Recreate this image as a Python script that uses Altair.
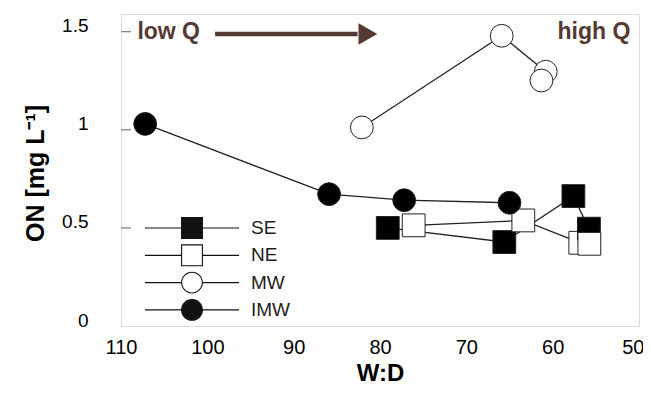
import altair as alt
import pandas as pd

# ---- data ----
series_order = ["SE", "NE", "MW", "IMW"]

imw_wd = [107.2, 85.9, 77.2, 65.0]
imw_on = [1.03, 0.672, 0.641, 0.628]

mw_wd = [82.1, 65.9, 60.8, 61.3]
mw_on = [1.012, 1.479, 1.296, 1.251]

se_wd = [79.1, 65.6, 57.6, 55.8]
se_on = [0.50, 0.428, 0.662, 0.496]

ne_wd = [76.1, 63.4, 56.8, 55.75]
ne_on = [0.513, 0.538, 0.424, 0.419]

x_ticks = [110, 100, 90, 80, 70, 60, 50]
y_ticks = [0, 0.5, 1, 1.5]
y_inner_ticks = [0.5, 1, 1.5]

ann_text = ["low Q", "high Q"]
ann_wd = [108.1, 51.0]
ann_on = [1.496, 1.496]
arrow_from = 99.1
arrow_to = 82.6
arrow_head = 81.4
arrow_on = 1.488

# ---- build tables ----
rows = []
for name, xs, ys in [("IMW", imw_wd, imw_on), ("MW", mw_wd, mw_on),
                     ("SE", se_wd, se_on), ("NE", ne_wd, ne_on)]:
    for i, (xv, yv) in enumerate(zip(xs, ys)):
        rows.append({"series": name, "wd": xv, "on": yv, "idx": i})
df = pd.DataFrame(rows)

ann_df = pd.DataFrame({"label": ann_text, "wd": ann_wd, "on": ann_on,
                       "align": ["left", "right"]})
arrow_df = pd.DataFrame({"wd": [arrow_from], "wd2": [arrow_to], "on": [arrow_on]})
head_df = pd.DataFrame({"wd": [arrow_head], "on": [arrow_on]})
tick_df = pd.DataFrame({"on": y_inner_ticks})

FONT = "Liberation Sans"
BROWN = "#543a32"
INK = "#1e1e1e"

x_enc = alt.X("wd:Q",
              scale=alt.Scale(domain=[110, 50], nice=False, zero=False),
              axis=alt.Axis(values=x_ticks, title="W:D", format="d",
                            grid=False, ticks=False, domain=False,
                            labelFlush=False,
                            labelAlign={"condition": {"test": "datum.value == 50",
                                                      "value": "right"},
                                        "value": "center"},
                            labelOffset={"condition": {"test": "datum.value == 50",
                                                       "value": 5},
                                         "value": 0},
                            labelFontSize=20, labelPadding=11,
                            titleFontSize=24, titleFontWeight="bold",
                            titleY=47, titleBaseline="middle"))
y_enc = alt.Y("on:Q",
              scale=alt.Scale(domain=[0, 1.59], nice=False, zero=False),
              axis=alt.Axis(values=y_ticks, title="ON [mg L⁻¹]", format="~r",
                            grid=False, ticks=False, domain=False,
                            labelFlush=False,
                            labelFontSize=19, labelPadding=33, labelOffset=-6,
                            titleFontSize=25, titleFontWeight="bold",
                            titleAngle=270, titleX=-86, titleY=159,
                            titleAlign="center", titleBaseline="middle"))

# legend glyphs: fill-only paths (line + marker, open markers drawn as rings)
sq_filled = "M-4.3,-0.055H4.3V0.055H-4.3Z M-1,-1H1V1H-1Z"
sq_open = ("M-4.3,-0.055H-0.95V0.055H-4.3Z M0.95,-0.055H4.3V0.055H0.95Z "
           "M-1,-1H1V1H-1Z M-0.9,-0.9V0.9H0.9V-0.9Z")
ci_filled = "M-4.3,-0.055H4.3V0.055H-4.3Z M-1,0A1,1,0,1,1,1,0A1,1,0,1,1,-1,0Z"
ci_open = ("M-4.3,-0.055H-0.95V0.055H-4.3Z M0.95,-0.055H4.3V0.055H0.95Z "
           "M-1,0A1,1,0,1,1,1,0A1,1,0,1,1,-1,0Z "
           "M-0.9,0A0.9,0.9,0,1,0,0.9,0A0.9,0.9,0,1,0,-0.9,0Z")

fill_range = ["#000000", "#ffffff", "#ffffff", "#000000"]

leg = alt.Legend(title=None, orient="none", legendX=60, legendY=203,
                 symbolSize=480, labelOffset=48, labelFontSize=19,
                 labelFont=FONT, labelColor=INK, rowPadding=5.3, padding=0,
                 symbolFillColor="#111111", symbolStrokeWidth=0,
                 symbolOpacity=1, labelLimit=0)

ticks = alt.Chart(tick_df).mark_rule(color="#888888", strokeWidth=1.3).encode(
    y=y_enc, x=alt.value(0), x2=alt.value(10))

lines = alt.Chart(df).mark_line(color="#222222", strokeWidth=1.3).encode(
    x=x_enc, y=y_enc, detail="series:N", order="idx:Q")

points = alt.Chart(df).mark_point(filled=True, size=520, stroke="#222222",
                                  strokeWidth=1, opacity=1).encode(
    x=x_enc, y=y_enc,
    shape=alt.Shape("series:N", scale=alt.Scale(domain=series_order,
                    range=["square", "square", "circle", "circle"]), legend=None),
    fill=alt.Fill("series:N", scale=alt.Scale(domain=series_order,
                  range=fill_range), legend=None),
    order="idx:Q")

legend_layer = alt.Chart(df).mark_point(filled=True, size=480, color="#111111",
                                        strokeWidth=0, opacity=0).encode(
    x=x_enc, y=y_enc,
    shape=alt.Shape("series:N", scale=alt.Scale(domain=series_order,
                    range=[sq_filled, sq_open, ci_open, ci_filled]), legend=leg))

shaft = alt.Chart(arrow_df).mark_rule(color=BROWN, strokeWidth=4.5).encode(
    x=x_enc, x2="wd2:Q", y=y_enc)

head = alt.Chart(head_df).mark_point(shape="triangle-right", filled=True,
                                     size=470, color=BROWN, opacity=1).encode(
    x=x_enc, y=y_enc)

texts_left = alt.Chart(ann_df).transform_filter(alt.datum.align == "left").mark_text(
    align="left", baseline="middle", fontSize=23, fontWeight="bold",
    font=FONT, color=BROWN).encode(x=x_enc, y=y_enc, text="label:N")
texts_right = alt.Chart(ann_df).transform_filter(alt.datum.align == "right").mark_text(
    align="right", baseline="middle", fontSize=23, fontWeight="bold",
    font=FONT, color=BROWN).encode(x=x_enc, y=y_enc, text="label:N")

chart = alt.layer(ticks, lines, points, legend_layer, shaft, head,
                  texts_left, texts_right).resolve_scale(
    shape="independent", fill="independent"
).properties(
    width=518, height=312,
    padding={"left": 113, "top": 6, "right": 4, "bottom": 59},
    autosize=alt.AutoSizeParams(type="none"),
).configure_view(
    stroke="#888888", strokeWidth=1.3
).configure_axis(
    domain=False, ticks=False, grid=False,
    labelFont=FONT, titleFont=FONT, labelColor=INK, titleColor=INK
).configure(background="white")

chart.save("out.html", embed_options={"renderer": "svg", "actions": False})
